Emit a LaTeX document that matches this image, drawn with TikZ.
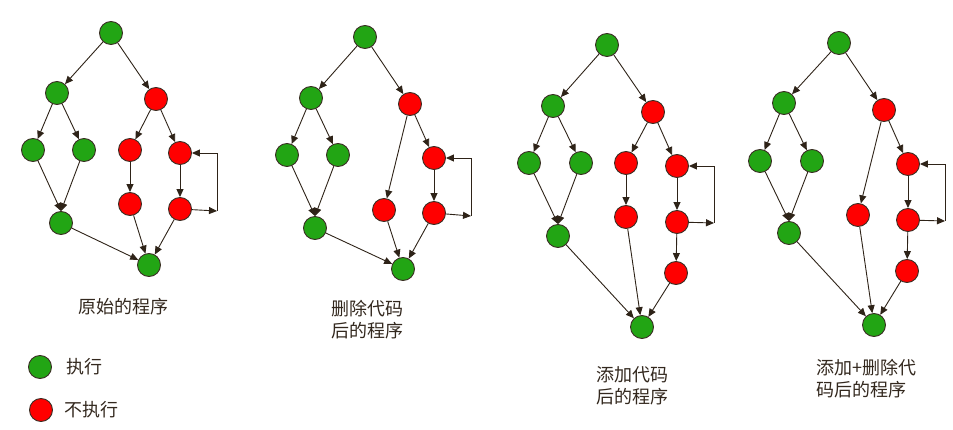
\documentclass[tikz,border=0pt]{standalone}
\usepackage{fontspec}
\usepackage{tikz}
\usetikzlibrary{arrows.meta}
\newfontfamily\cjk{Noto Sans CJK SC}
\definecolor{runbg}{HTML}{22A514}
\definecolor{norunbg}{HTML}{FF0000}
\definecolor{nodeborder}{HTML}{3A2E24}
\definecolor{linefg}{HTML}{2E2318}
\definecolor{textfg}{HTML}{33281E}
\tikzstyle{run} = [circle, fill=runbg, draw=nodeborder, line width=0.9pt,
  minimum size=23pt, inner sep=0pt]
\tikzstyle{norun} = [circle, fill=norunbg, draw=nodeborder, line width=0.9pt,
  minimum size=23pt, inner sep=0pt]
\tikzstyle{arrow} = [-{Triangle[length=8pt,width=7pt]}, color=linefg, line width=0.9pt]
\tikzstyle{caption} = [text=textfg, align=center, inner sep=0pt,
  font=\cjk\fontsize{18}{22}\selectfont]

\begin{document}
\begin{tikzpicture}[x=1pt, y=-1pt]

  \useasboundingbox (0,0) rectangle (953,430);

  % Original program
  \node[run]   (a0)  at (111,33)  {};
  \node[run]   (a1)  at (57,93)   {};
  \node[norun] (a2)  at (156,99)  {};
  \node[run]   (a3)  at (33,150)  {};
  \node[run]   (a4)  at (84,150)  {};
  \node[norun] (a5)  at (130,150) {};
  \node[norun] (a6)  at (180,153) {};
  \node[norun] (a7)  at (130,204) {};
  \node[norun] (a8)  at (180,209) {};
  \node[run]   (a9)  at (61,223)  {};
  \node[run]   (a10) at (149,265) {};
  \coordinate  (ac)  at (217,211);

  \draw[arrow] (a0) -- (a1);
  \draw[arrow] (a0) -- (a2);
  \draw[arrow] (a1) -- (a3);
  \draw[arrow] (a1) -- (a4);
  \draw[arrow] (a2) -- (a5);
  \draw[arrow] (a2) -- (a6);
  \draw[arrow] (a3) -- (a9.north);
  \draw[arrow] (a4) -- (a9.north);
  \draw[arrow] (a5) -- (a7);
  \draw[arrow] (a6) -- (a8);
  \draw[arrow] (a7) -- (a10);
  \draw[arrow] (a8) -- (a10);
  \draw[arrow] (a9) -- (a10);
  \draw[arrow] (a8) -- (ac);
  \draw[arrow] (ac) |- (a6);

  % After deleting code
  \node[run]   (b0)  at (365,37)  {};
  \node[run]   (b1)  at (311,98)  {};
  \node[norun] (b2)  at (410,104) {};
  \node[run]   (b3)  at (287,155) {};
  \node[run]   (b4)  at (338,155) {};
  \node[norun] (b5)  at (384,210) {};
  \node[norun] (b6)  at (434,158) {};
  \node[norun] (b8)  at (434,213) {};
  \node[run]   (b9)  at (315,228) {};
  \node[run]   (b10) at (403,269) {};
  \coordinate  (bc)  at (471,216);

  \draw[arrow] (b0) -- (b1);
  \draw[arrow] (b0) -- (b2);
  \draw[arrow] (b1) -- (b3);
  \draw[arrow] (b1) -- (b4);
  \draw[arrow] (b2) -- (b5);
  \draw[arrow] (b2) -- (b6);
  \draw[arrow] (b3) -- (b9.north);
  \draw[arrow] (b4) -- (b9.north);
  \draw[arrow] (b6) -- (b8);
  \draw[arrow] (b5) -- (b10);
  \draw[arrow] (b8) -- (b10);
  \draw[arrow] (b9) -- (b10);
  \draw[arrow] (b8) -- (bc);
  \draw[arrow] (bc) |- (b6);

  % After adding code
  \node[run]   (c0)  at (607,45)  {};
  \node[run]   (c1)  at (553,106) {};
  \node[norun] (c2)  at (653,112) {};
  \node[run]   (c3)  at (529,163) {};
  \node[run]   (c4)  at (581,163) {};
  \node[norun] (c5)  at (626,163) {};
  \node[norun] (c6)  at (677,166) {};
  \node[norun] (c7)  at (626,217) {};
  \node[norun] (c8)  at (677,222) {};
  \node[norun] (c11) at (676,273) {};
  \node[run]   (c9)  at (558,236) {};
  \node[run]   (c10) at (642,327) {};
  \coordinate  (cc)  at (714,223);

  \draw[arrow] (c0) -- (c1);
  \draw[arrow] (c0) -- (c2);
  \draw[arrow] (c1) -- (c3);
  \draw[arrow] (c1) -- (c4);
  \draw[arrow] (c2) -- (c5);
  \draw[arrow] (c2) -- (c6);
  \draw[arrow] (c3) -- (c9.north);
  \draw[arrow] (c4) -- (c9.north);
  \draw[arrow] (c5) -- (c7);
  \draw[arrow] (c6) -- (c8);
  \draw[arrow] (c8) -- (c11);
  \draw[arrow] (c7) -- (c10);
  \draw[arrow] (c11) -- (c10);
  \draw[arrow] (c9) -- (c10);
  \draw[arrow] (c8) -- (cc);
  \draw[arrow] (cc) |- (c6);

  % After adding and deleting code
  \node[run]   (d0)  at (839,43)  {};
  \node[run]   (d1)  at (784,103) {};
  \node[norun] (d2)  at (884,110) {};
  \node[run]   (d3)  at (760,161) {};
  \node[run]   (d4)  at (812,161) {};
  \node[norun] (d5)  at (858,215) {};
  \node[norun] (d6)  at (908,164) {};
  \node[norun] (d8)  at (908,220) {};
  \node[norun] (d11) at (907,271) {};
  \node[run]   (d9)  at (789,233) {};
  \node[run]   (d10) at (874,325) {};
  \coordinate  (dc)  at (945,221);

  \draw[arrow] (d0) -- (d1);
  \draw[arrow] (d0) -- (d2);
  \draw[arrow] (d1) -- (d3);
  \draw[arrow] (d1) -- (d4);
  \draw[arrow] (d2) -- (d5);
  \draw[arrow] (d2) -- (d6);
  \draw[arrow] (d3) -- (d9.north);
  \draw[arrow] (d4) -- (d9.north);
  \draw[arrow] (d6) -- (d8);
  \draw[arrow] (d8) -- (d11);
  \draw[arrow] (d5) -- (d10);
  \draw[arrow] (d11) -- (d10);
  \draw[arrow] (d9) -- (d10);
  \draw[arrow] (d8) -- (dc);
  \draw[arrow] (dc) |- (d6);

  % Captions
  \node[caption] (la) at (123,307) {原始的程序};
  \node[caption] (lb) at (367,320) {删除代码\\后的程序};
  \node[caption] (lc) at (632,386) {添加代码\\后的程序};
  \node[caption, align=left, anchor=west] (ld) at (816,379) {添加+删除代\\码后的程序};

  % Legend
  \node[run]   (keyrun)   at (40,367) {};
  \node[norun] (keynorun) at (41,410) {};
  \node[caption] (lrun)   at (84,367) {执行};
  \node[caption] (lnorun) at (91,410) {不执行};

\end{tikzpicture}
\end{document}
